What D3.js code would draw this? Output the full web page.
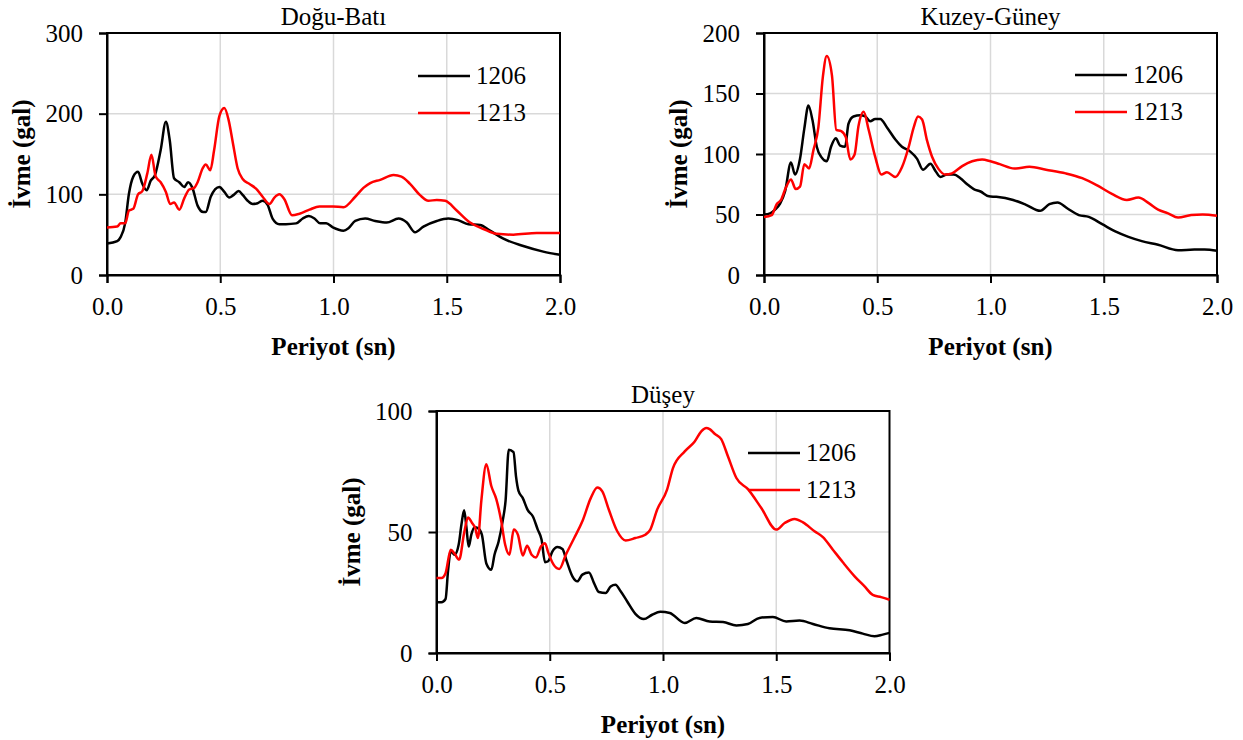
<!DOCTYPE html>
<html>
<head>
<meta charset="utf-8">
<script src="https://cdn.jsdelivr.net/npm/d3@7"></script>
<style>
  body { margin: 0; background: #fff; }
</style>
</head>
<body>
<div id="chart"></div>
<script>
// spectral acceleration, period (s) vs ivme (gal)
const periodTicks = [0, 0.5, 1.0, 1.5, 2.0];
const seriesNames = ['1206', '1213'];

// Doğu-Batı
const ewTicks = [0, 100, 200, 300];
const ew1206 = [[0,39],[0.045,42],[0.06,47],[0.08,64],[0.097,101],[0.116,122],[0.137,128],[0.156,113],[0.175,105],[0.193,117],[0.212,124],[0.237,155],[0.26,190],[0.277,167],[0.296,120],[0.319,115],[0.341,109],[0.358,115],[0.377,108],[0.4,86],[0.425,78],[0.436,78],[0.458,97],[0.496,109],[0.518,103],[0.54,96],[0.558,99],[0.581,104],[0.6,99],[0.621,92],[0.643,88],[0.665,89],[0.687,92],[0.709,87],[0.731,70],[0.761,63],[0.79,63],[0.835,64],[0.864,70],[0.891,73],[0.916,70],[0.941,64],[0.968,64],[0.997,59],[1.044,55],[1.066,58],[1.096,67],[1.14,70],[1.184,67],[1.235,65],[1.287,70],[1.324,65],[1.36,53],[1.397,60],[1.456,67],[1.507,70],[1.55,68],[1.596,63],[1.647,62],[1.691,55],[1.75,45],[1.838,36],[1.926,29],[2.0,25]];
const ew1213 = [[0,59],[0.045,60],[0.06,64],[0.08,64],[0.097,80],[0.116,82],[0.137,100],[0.156,104],[0.178,126],[0.196,149],[0.215,122],[0.237,115],[0.26,103],[0.279,88],[0.296,90],[0.319,81],[0.341,95],[0.363,106],[0.385,108],[0.4,115],[0.422,132],[0.436,137],[0.456,130],[0.473,155],[0.496,197],[0.518,207],[0.537,192],[0.555,165],[0.577,132],[0.599,119],[0.628,113],[0.658,107],[0.687,97],[0.717,88],[0.739,96],[0.761,100],[0.783,94],[0.817,74],[0.85,76],[0.894,81],[0.938,85],[0.997,85],[1.044,84],[1.096,97],[1.132,108],[1.162,114],[1.206,118],[1.265,124],[1.3,122],[1.338,113],[1.382,99],[1.419,92],[1.456,93],[1.493,92],[1.544,80],[1.603,65],[1.662,57],[1.72,51],[1.794,50],[1.897,52],[2.0,52]];

// Kuzey-Güney
const nsTicks = [0, 50, 100, 150, 200];
const ns1206 = [[0,50],[0.027,51],[0.049,54],[0.071,59],[0.093,69],[0.119,93],[0.137,83],[0.159,96],[0.178,121],[0.196,140],[0.214,128],[0.233,106],[0.255,97],[0.277,94],[0.296,106],[0.317,113],[0.336,107],[0.358,106],[0.373,125],[0.395,131],[0.425,132],[0.447,131],[0.469,127],[0.491,129],[0.513,129],[0.543,122],[0.58,112],[0.609,106],[0.646,102],[0.676,96],[0.702,87],[0.735,92],[0.757,86],[0.779,81],[0.808,83],[0.838,83],[0.867,80],[0.897,75],[0.926,71],[0.956,69],[0.993,65],[1.026,64.6],[1.1,62],[1.157,58],[1.219,53],[1.26,58.5],[1.296,60],[1.34,55],[1.39,49.5],[1.434,48],[1.493,42],[1.551,36],[1.609,31.5],[1.668,28],[1.74,25],[1.828,20.5],[1.9,21],[1.945,21],[2.0,20]];
const ns1213 = [[0,48],[0.034,49.5],[0.056,58.5],[0.075,62],[0.096,72],[0.119,79],[0.14,71],[0.159,73],[0.178,91.6],[0.199,88],[0.218,103],[0.24,122],[0.26,164],[0.277,181],[0.3,165],[0.319,120],[0.341,119],[0.361,114],[0.381,95.5],[0.4,99.6],[0.417,123],[0.44,135],[0.462,120],[0.491,97.7],[0.518,83],[0.543,85],[0.58,81],[0.609,89],[0.639,106],[0.661,122],[0.68,131],[0.698,128.5],[0.72,111],[0.742,97.7],[0.771,87.5],[0.801,83],[0.83,84],[0.875,90],[0.919,94],[0.963,95.5],[1.0,94],[1.041,91.6],[1.106,88],[1.172,89.4],[1.245,87],[1.332,84],[1.405,80],[1.471,74],[1.536,67],[1.602,62],[1.653,64],[1.697,59.6],[1.74,54],[1.784,51],[1.828,47.5],[1.886,49.5],[1.937,50],[2.0,49]];

// Düşey
const vTicks = [0, 50, 100];
const v1206 = [[0,21],[0.022,21],[0.04,22.3],[0.051,34],[0.063,42],[0.08,40.6],[0.098,44.8],[0.11,53],[0.122,59],[0.132,52],[0.142,44],[0.154,49],[0.168,52],[0.183,51.6],[0.2,49],[0.22,37],[0.242,34.4],[0.256,40.6],[0.274,46],[0.293,55],[0.305,63],[0.319,84],[0.34,83],[0.351,73],[0.362,67],[0.381,64],[0.403,59],[0.425,56.5],[0.447,51],[0.464,46.8],[0.479,37.5],[0.493,37.9],[0.512,42],[0.534,43.8],[0.556,43],[0.575,37.9],[0.6,31.7],[0.622,29.6],[0.644,32.4],[0.673,33.3],[0.695,29],[0.717,25.2],[0.747,24.8],[0.769,27.5],[0.79,28.2],[0.813,25.5],[0.842,21.3],[0.878,16.2],[0.915,14],[0.952,15.8],[0.988,17],[1.03,16.5],[1.096,12.4],[1.147,14.5],[1.206,13],[1.265,12.8],[1.324,11.4],[1.375,12],[1.426,14.5],[1.485,14.9],[1.544,13],[1.603,13.4],[1.662,12],[1.735,10.2],[1.824,9.4],[1.882,8],[1.934,6.9],[1.97,7.6],[2.0,8.3]];
const v1213 = [[0,31],[0.022,31],[0.04,33],[0.063,42.7],[0.08,41],[0.1,38.6],[0.122,49.6],[0.139,56],[0.157,53.7],[0.171,51.6],[0.183,47.5],[0.198,63],[0.22,78],[0.242,69],[0.264,63.6],[0.286,54.4],[0.303,44.8],[0.322,40.6],[0.341,51],[0.359,49],[0.381,40.3],[0.4,44.3],[0.42,40.6],[0.439,39.5],[0.461,44],[0.479,45.4],[0.493,41.6],[0.517,36.5],[0.542,34.7],[0.571,40.6],[0.608,47.5],[0.644,54.4],[0.681,64],[0.71,68.4],[0.732,66.8],[0.761,59.2],[0.798,50.3],[0.835,46.5],[0.878,47.5],[0.922,48.9],[0.944,51],[0.974,59.2],[1.018,67.5],[1.044,76.4],[1.096,83.3],[1.14,87.4],[1.169,91.6],[1.191,93],[1.206,92.5],[1.228,90.6],[1.257,88.4],[1.287,81.2],[1.324,72.3],[1.375,67.7],[1.434,59.9],[1.5,51],[1.537,53.7],[1.581,55.4],[1.618,54],[1.669,50.3],[1.706,47.9],[1.75,42.7],[1.794,37.5],[1.846,31.7],[1.89,27.5],[1.926,24],[1.963,23.1],[2.0,22]];

const colors = ['#000000', '#ff0000'];
const serif = '"Liberation Serif", "Times New Roman", serif';

const svg = d3.select('#chart')
  .append('svg')
  .attr('width', 1243)
  .attr('height', 740)
  .attr('font-family', serif);

const panels = [
  { title: 'Doğu-Batı',   left: 107,   top: 33,  ticks: ewTicks, series: [ew1206, ew1213], legendX: 418,  legendY: 76 },
  { title: 'Kuzey-Güney', left: 764,   top: 33,  ticks: nsTicks, series: [ns1206, ns1213], legendX: 1075, legendY: 75 },
  { title: 'Düşey',       left: 436.5, top: 411, ticks: vTicks,  series: [v1206, v1213],   legendX: 748,  legendY: 453 }
];
const pw = 453, ph = 242;

function txt(sel, size, bold) {
  return sel.style('font-family', serif)
    .style('font-size', size + 'px')
    .style('font-weight', bold ? 'bold' : 'normal')
    .attr('fill', '#000');
}

panels.forEach(p => {
  const g = svg.append('g').attr('transform', `translate(${p.left},${p.top})`);

  const x = d3.scaleLinear().domain([0, 2]).range([0, pw]);
  const y = d3.scaleLinear().domain([0, d3.max(p.ticks)]).range([ph, 0]);

  // gridlines
  g.append('g')
    .selectAll('line')
    .data(p.ticks.slice(1, -1))
    .join('line')
    .attr('x1', 0).attr('x2', pw)
    .attr('y1', d => y(d)).attr('y2', d => y(d))
    .attr('stroke', '#d9d9d9').attr('stroke-width', 1.5);
  g.append('g')
    .selectAll('line')
    .data(periodTicks.slice(1, -1))
    .join('line')
    .attr('y1', 0).attr('y2', ph)
    .attr('x1', d => x(d)).attr('x2', d => x(d))
    .attr('stroke', '#d9d9d9').attr('stroke-width', 1.5);

  // frame
  g.append('rect')
    .attr('width', pw).attr('height', ph)
    .attr('fill', 'none').attr('stroke', '#000').attr('stroke-width', 2);

  // axes
  const xAxis = g.append('g')
    .attr('transform', `translate(0,${ph})`)
    .call(d3.axisBottom(x).tickValues(periodTicks).tickFormat(d3.format('.1f')).tickSize(8).tickPadding(14));
  const yAxis = g.append('g')
    .call(d3.axisLeft(y).tickValues(p.ticks).tickSize(8).tickPadding(16));
  [xAxis, yAxis].forEach(a => {
    a.attr('font-family', serif);
    a.select('.domain').attr('stroke', '#000').attr('stroke-width', 2);
    a.selectAll('.tick line').attr('stroke', '#000').attr('stroke-width', 2);
    txt(a.selectAll('.tick text'), 25, false);
  });

  // curves
  const line = d3.line()
    .x(d => x(d[0]))
    .y(d => y(d[1]))
    .curve(d3.curveMonotoneX);
  p.series.forEach((s, i) => {
    g.append('path')
      .datum(s)
      .attr('d', line)
      .attr('fill', 'none')
      .attr('stroke', colors[i])
      .attr('stroke-width', 2.5);
  });

  // title
  txt(g.append('text'), 25, false)
    .attr('x', pw / 2).attr('y', -8)
    .attr('text-anchor', 'middle')
    .text(p.title);

  // axis labels
  txt(g.append('text'), 25, true)
    .attr('x', pw / 2).attr('y', ph + 80)
    .attr('text-anchor', 'middle')
    .text('Periyot (sn)');
  txt(g.append('text'), 25, true)
    .attr('transform', `translate(-77,${ph / 2}) rotate(-90)`)
    .attr('text-anchor', 'middle')
    .text('İvme (gal)');

  // legend
  const lg = svg.append('g');
  seriesNames.forEach((name, i) => {
    const ly = p.legendY + i * 37;
    lg.append('line')
      .attr('x1', p.legendX).attr('x2', p.legendX + 52)
      .attr('y1', ly).attr('y2', ly)
      .attr('stroke', colors[i]).attr('stroke-width', 2.5);
    txt(lg.append('text'), 25, false)
      .attr('x', p.legendX + 58).attr('y', ly)
      .attr('dy', '0.33em')
      .text(name);
  });
});
</script>
</body>
</html>
